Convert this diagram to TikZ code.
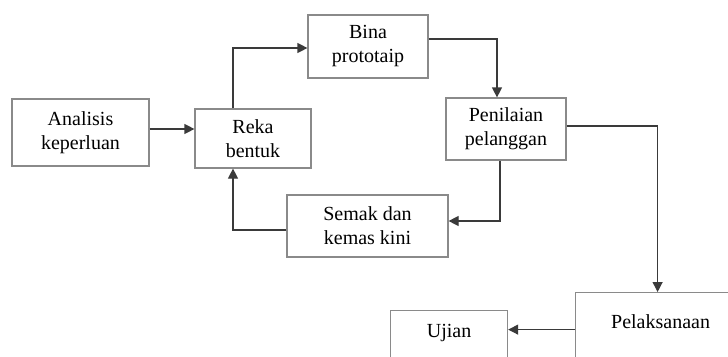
\documentclass[tikz,border=0pt]{standalone}
\usepackage{fontspec}
\setmainfont{Liberation Serif}
\usetikzlibrary{arrows.meta}
\definecolor{boxline}{HTML}{8A8A8A}
\definecolor{flowline}{HTML}{3A3A3A}
\begin{document}
\begin{tikzpicture}[x=1pt,y=-1pt,
  stage/.style={draw=boxline, line width=1.2pt, fill=white, align=center,
    font=\fontsize{20}{24}\selectfont, inner sep=0pt},
  flow/.style={draw=flowline, line width=1.2pt,
    -{Triangle[length=10pt,width=10pt]}},
  link/.style={draw=flowline, line width=1.2pt}]
\useasboundingbox (0,0) rectangle (728,356);
\clip (0,0) rectangle (728,356);

% process stages
\node[stage, minimum width=137pt, minimum height=67pt] (ana) at (80.5,132.5) {Analisis\\keperluan};
\node[stage, minimum width=116pt, minimum height=59pt] (reka) at (253,138.5) {Reka\\bentuk};
\node[stage, minimum width=120pt, minimum height=63pt] (bina) at (368,46.5) {Bina\\prototaip};
\node[stage, minimum width=120pt, minimum height=62pt] (pen) at (506,129) {Penilaian\\pelanggan};
\node[stage, minimum width=161pt, minimum height=62pt] (semak) at (367.5,226) {Semak dan\\kemas kini};
\node[stage, anchor=north west, minimum width=117pt, text height=27pt, text depth=38pt] (ujian) at (390,310) {Ujian};
\node[stage, anchor=north west, minimum width=170pt, text height=36pt, text depth=47pt] (pel) at (575,292) {Pelaksanaan};

% connectors
\draw[flow] ([yshift=3.5pt]ana.east) -- ([yshift=9.5pt]reka.west);
\draw[flow] ([xshift=-20pt]reka.north) |- ([yshift=-1.5pt]bina.west);
\draw[flow] ([yshift=7.5pt]bina.east) -| ([xshift=-9pt]pen.north);
\draw[flow] ([yshift=3pt]pen.east) -| ([xshift=-3pt]pel.north);
\draw[flow] ([xshift=-6pt]pen.south) |- ([yshift=5pt]semak.east);
\draw[flow] ([yshift=-4pt]semak.west) -| ([xshift=-20pt]reka.south);
\draw[flow] ([yshift=4.5pt]pel.west) -- ([yshift=13.5pt]ujian.east);
\end{tikzpicture}
\end{document}
